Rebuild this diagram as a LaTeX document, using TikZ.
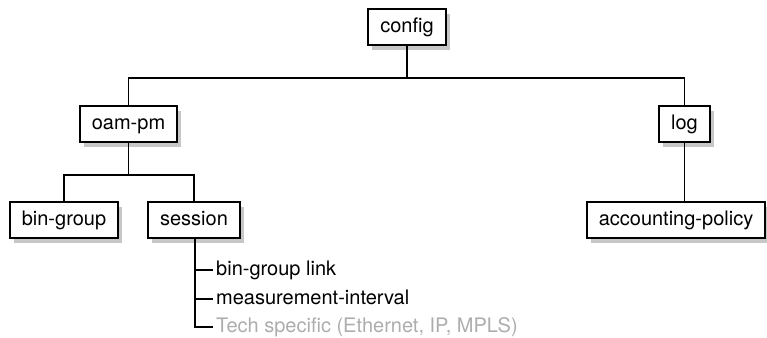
\documentclass[tikz,border=0pt]{standalone}
\usepackage{fontspec}
\setmainfont{TeX Gyre Heros}
\usetikzlibrary{shadows}
\definecolor{techgray}{gray}{0.68}
\tikzset{
    box/.style={draw, line width=2.1pt, fill=white, inner xsep=12pt,
        minimum height=36pt, text height=15pt, text depth=4pt,
        drop shadow={shadow xshift=4pt, shadow yshift=-5pt, fill=black!22, opacity=1}},
    item/.style={anchor=west, inner xsep=0pt, text height=15pt, text depth=4pt},
    link/.style={line width=1.9pt}
}
\begin{document}
\begin{tikzpicture}[x=1pt, y=-1pt, font=\fontsize{20}{24}\selectfont]
            \useasboundingbox (0,0) rectangle (767,337);

            % 各层方框
            \node[box] (config) at (407, 27) {config};
            \node[box] (oampm) at (128.5, 124) {oam-pm};
            \node[box] (log) at (684.5, 124) {log};
            \node[box] (bingroup) at (64, 220) {bin-group};
            \node[box] (session) at (194, 220) {session};
            \node[box] (accpolicy) at (676, 220) {accounting-policy};

            % 第一层连线 (config -> oam-pm, log)
            \coordinate (bus1) at (407, 78);
            \draw[link] (config.south) -- (bus1);
            \draw[link] (oampm.north) |- (bus1) -| (log.north);

            % 第二层连线 (oam-pm -> bin-group, session)
            \coordinate (bus2) at (128.5, 175);
            \draw[link] (oampm.south) -- (bus2);
            \draw[link] (bingroup.north) |- (bus2) -| (session.north);

            % log -> accounting-policy
            \draw[link] (log.south) -- (log.south |- accpolicy.north);

            % session 下的条目
            \node[item] (binlink) at (216, 270) {bin-group link};
            \node[item] (measint) at (216, 299) {measurement-interval};
            \node[item, text=techgray] (tech) at (216, 327) {Tech specific (Ethernet, IP, MPLS)};

            \coordinate (spine) at (195, 327);
            \draw[link] (session.south -| spine) -- (spine) -- ([xshift=-3pt]tech.west);
            \draw[link] (spine |- binlink.west) -- ([xshift=-3pt]binlink.west);
            \draw[link] (spine |- measint.west) -- ([xshift=-3pt]measint.west);
        \end{tikzpicture}
\end{document}
